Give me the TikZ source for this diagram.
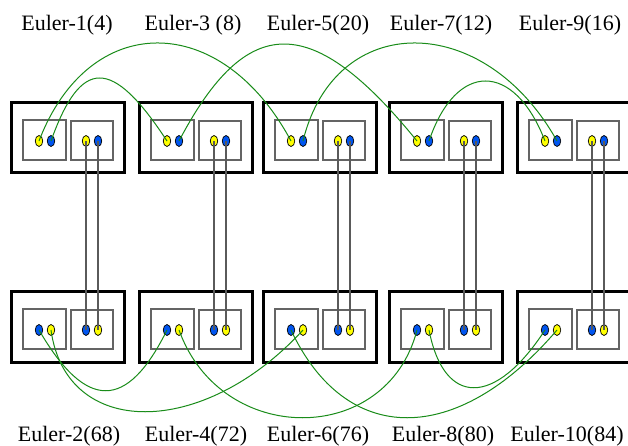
\documentclass[tikz,border=0pt]{standalone}
\usepackage{fontspec}
\setmainfont{Liberation Serif}
\usetikzlibrary{shapes.geometric}
\definecolor{dotyellow}{RGB}{255,255,0}
\definecolor{dotblue}{RGB}{0,85,240}
\definecolor{wire}{RGB}{25,140,25}
\definecolor{boxgrey}{RGB}{100,100,100}
\definecolor{rodgrey}{RGB}{90,90,90}
\begin{document}
\begin{tikzpicture}[x=1pt,y=-1pt,
  outerbox/.style={draw=black,line width=3pt},
  innerbox/.style={draw=boxgrey,line width=1.2pt},
  ydot/.style={ellipse,draw=black,line width=0.7pt,fill=dotyellow,minimum width=7.5pt,minimum height=11pt,inner sep=0pt},
  bdot/.style={ydot,fill=dotblue},
  wirestyle/.style={draw=wire,line width=1pt},
  rod/.style={draw=rodgrey,line width=1.5pt},
  lbl/.style={anchor=base,inner sep=0pt,font=\fontsize{22}{26}\selectfont}]
\clip (0,0) rectangle (628,446);
\fill[white] (0,0) rectangle (628,446);
\foreach \L/\n in {11/1,139/2,263/3,389/4,517/5}{
  \draw[outerbox] (\L,102.5) rectangle ++(113,70.5);
  \draw[innerbox] (\L+12,120) rectangle (\L+55,160);
  \draw[innerbox] (\L+60,121) rectangle (\L+102,160);
  \node[ydot] (tLy\n) at (\L+28,141) {};
  \node[bdot] (tLb\n) at (\L+40,141) {};
  \node[ydot] (tRy\n) at (\L+75,141) {};
  \node[bdot] (tRb\n) at (\L+87,141) {};
  \draw[outerbox] (\L,291.5) rectangle ++(113,70.5);
  \draw[innerbox] (\L+12,309) rectangle (\L+55,349);
  \draw[innerbox] (\L+60,310) rectangle (\L+102,349);
  \node[bdot] (bLb\n) at (\L+28,330) {};
  \node[ydot] (bLy\n) at (\L+40,330) {};
  \node[bdot] (bRb\n) at (\L+75,330) {};
  \node[ydot] (bRy\n) at (\L+87,330) {};
}
\foreach \n in {1,...,5}{
  \draw[rod] (tRy\n.center) -- (bRb\n.center);
  \draw[rod] (tRb\n.center) -- (bRy\n.center);
}
% top wires
\draw[wirestyle] (tLy1.center) .. controls +(50,-130.7) and +(-70,-130.7) .. (tLy3.center);
\draw[wirestyle] (tLb1.center) .. controls +(30,-84) and +(-55,-84) .. (tLy2.center);
\draw[wirestyle] (tLb2.center) .. controls +(68,-129.3) and +(-105,-129.3) .. (tLy4.center);
\draw[wirestyle] (tLb3.center) .. controls +(32,-130.7) and +(-73,-130.7) .. (tLb5.center);
\draw[wirestyle] (tLb4.center) .. controls +(27,-80) and +(-31,-80) .. (tLy5.center);
% bottom wires
\draw[wirestyle] (bLb1.center) .. controls +(47,81) and +(-40,81) .. (bLb2.center);
\draw[wirestyle] (bLy1.center) .. controls +(15,109) and +(-100,109) .. (bLy3.center);
\draw[wirestyle] (bLy2.center) .. controls +(42,117) and +(-30,117) .. (bLb4.center);
\draw[wirestyle] (bLb3.center) .. controls +(55,117) and +(-100,117) .. (bLy5.center);
\draw[wirestyle] (bLy4.center) .. controls +(15,77) and +(-50,77) .. (bLb5.center);
% labels
\node[lbl] (lt1) at (67,31) {Euler-1(4)};
\node[lbl] (lt2) at (193,31) {Euler-3 (8)};
\node[lbl] (lt3) at (318,31) {Euler-5(20)};
\node[lbl] (lt4) at (441,31) {Euler-7(12)};
\node[lbl] (lt5) at (570,31) {Euler-9(16)};
\node[lbl] (lb1) at (69,441) {Euler-2(68)};
\node[lbl] (lb2) at (196,441) {Euler-4(72)};
\node[lbl] (lb3) at (318,441) {Euler-6(76)};
\node[lbl] (lb4) at (443,441) {Euler-8(80)};
\node[lbl] (lb5) at (567,441) {Euler-10(84)};
\end{tikzpicture}
\end{document}
